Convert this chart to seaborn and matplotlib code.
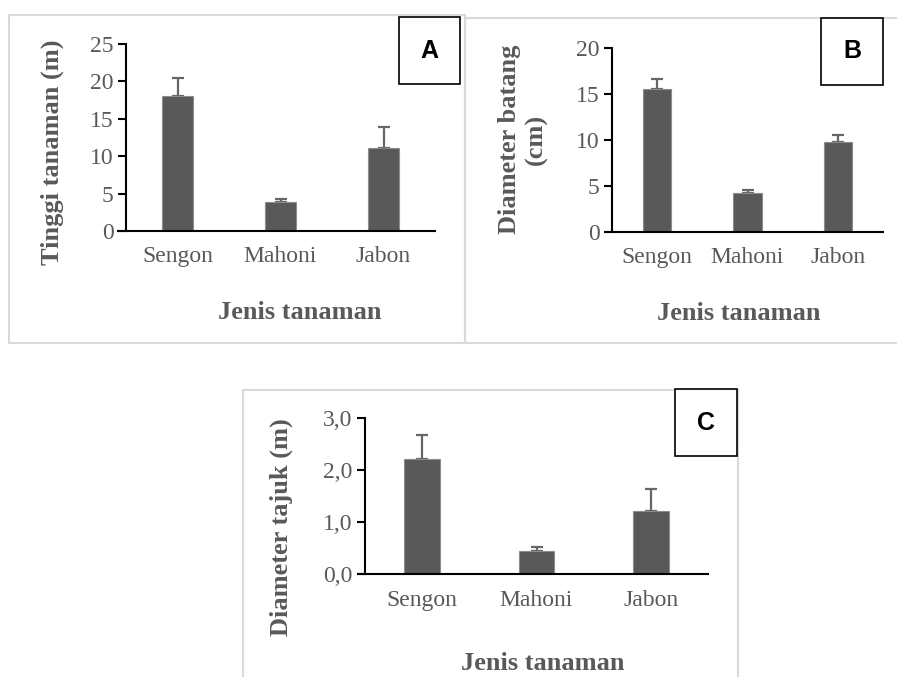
import matplotlib
matplotlib.use("Agg")
import matplotlib.pyplot as plt
import pandas as pd
import seaborn as sns
from matplotlib.patches import Rectangle

# data
jenis = ["Sengon", "Mahoni", "Jabon"]
tinggi = [18.1, 3.85, 11.1]
tinggi_err = [2.3, 0.45, 2.8]
diameter_batang = [15.6, 4.25, 9.75]
diameter_batang_err = [1.1, 0.3, 0.75]
diameter_tajuk = [2.21, 0.45, 1.22]
diameter_tajuk_err = [0.47, 0.07, 0.43]

W, H = 897, 677
BAR = "#595959"
TXT = "#595959"
SERIF = ["Liberation Serif", "DejaVu Serif"]

sns.set_theme(style="white")
plt.rcParams["font.family"] = SERIF

fig = plt.figure(figsize=(W / 100, H / 100), dpi=100)


def fx(x):
    return x / W


def fy(y):
    return 1 - y / H


def frame(x0, y0, x1, y1, color, lw):
    fig.patches.append(Rectangle((fx(x0), fy(y1)), fx(x1 - x0), (y1 - y0) / H,
                                 transform=fig.transFigure, fill=False,
                                 edgecolor=color, linewidth=lw, zorder=0))


def letter_box(x0, y0, x1, y1, s):
    fig.patches.append(Rectangle((fx(x0), fy(y1)), fx(x1 - x0), (y1 - y0) / H,
                                 transform=fig.transFigure, facecolor="white",
                                 edgecolor="black", linewidth=1.2, zorder=5))
    fig.text(fx((x0 + x1) / 2), fy((y0 + y1) / 2), s, ha="center", va="center",
             fontsize=18, fontweight="bold", family=["Liberation Sans", "DejaVu Sans"],
             color="black", zorder=6)


def panel(xstart, yaxis_x, xend, y0px, ytop_px, ymax, vals, errs, yticks, ticklabels):
    unit = (xend - yaxis_x) / 3
    left_lim = -0.5 - (yaxis_x - xstart) / unit
    ax = fig.add_axes([fx(xstart), fy(y0px), fx(xend - xstart), (y0px - ytop_px) / H])
    df = pd.DataFrame({"jenis": jenis, "nilai": vals})
    sns.barplot(data=df, x="jenis", y="nilai", color=BAR, saturation=1,
                width=0.31, edgecolor="#8c8c8c", linewidth=0.8, ax=ax, zorder=2)
    ax.errorbar(range(len(jenis)), vals, yerr=[[0] * len(errs), errs], fmt="none",
                ecolor="#666666", elinewidth=1.6, capsize=4, capthick=1.6, zorder=1)
    ax.set_xlim(left_lim, 2.5)
    ax.set_ylim(0, ymax)
    ax.set_yticks(yticks)
    ax.set_yticklabels(ticklabels)
    ax.set_xlabel("")
    ax.set_ylabel("")
    for side in ["top", "right"]:
        ax.spines[side].set_visible(False)
    ax.spines["left"].set_position(("data", -0.5))
    ax.spines["left"].set_color("black")
    ax.spines["bottom"].set_color("black")
    ax.spines["left"].set_linewidth(1.5)
    ax.spines["bottom"].set_linewidth(1.5)
    ax.tick_params(axis="y", direction="out", length=6, width=1.5, color="black",
                   labelsize=17, labelcolor=TXT, pad=3, left=True)
    ax.tick_params(axis="x", length=0, labelsize=17, labelcolor=TXT, pad=11)
    ax.set_facecolor("none")
    return ax


# panel frames
frame(9, 15, 465, 343, "#d9d9d9", 1.5)
frame(465, 18, 900, 343, "#d9d9d9", 1.5)
frame(243, 390, 738, 680, "#d9d9d9", 1.5)

# A
panel(118, 126, 435, 231, 44, 25, tinggi, tinggi_err,
      [0, 5, 10, 15, 20, 25], ["0", "5", "10", "15", "20", "25"])
fig.text(fx(52), fy(152), "Tinggi tanaman (m)", rotation=90, ha="center", va="center",
         fontsize=19, fontweight="bold", color=TXT)
fig.text(fx(300), fy(313), "Jenis tanaman", ha="center", va="center",
         fontsize=19, fontweight="bold", color=TXT)
letter_box(399, 17, 460, 84, "A")

# B
panel(606, 612, 883, 231.7, 48.3, 20, diameter_batang, diameter_batang_err,
      [0, 5, 10, 15, 20], ["0", "5", "10", "15", "20"])
fig.text(fx(523), fy(139), "Diameter batang\n(cm)", rotation=90, ha="center", va="center",
         multialignment="center", fontsize=19, fontweight="bold", color=TXT, linespacing=1.2)
fig.text(fx(739), fy(314), "Jenis tanaman", ha="center", va="center",
         fontsize=19, fontweight="bold", color=TXT)
letter_box(821, 18, 883, 85, "B")

# C
panel(358, 365, 708, 574.3, 418.3, 3.0, diameter_tajuk, diameter_tajuk_err,
      [0, 1, 2, 3], ["0,0", "1,0", "2,0", "3,0"])
fig.text(fx(281), fy(527), "Diameter tajuk (m)", rotation=90, ha="center", va="center",
         fontsize=19, fontweight="bold", color=TXT)
fig.text(fx(543), fy(663), "Jenis tanaman", ha="center", va="center",
         fontsize=19, fontweight="bold", color=TXT)
letter_box(675, 389, 737, 456, "C")

fig.savefig("out.png", dpi=100, facecolor="white")
